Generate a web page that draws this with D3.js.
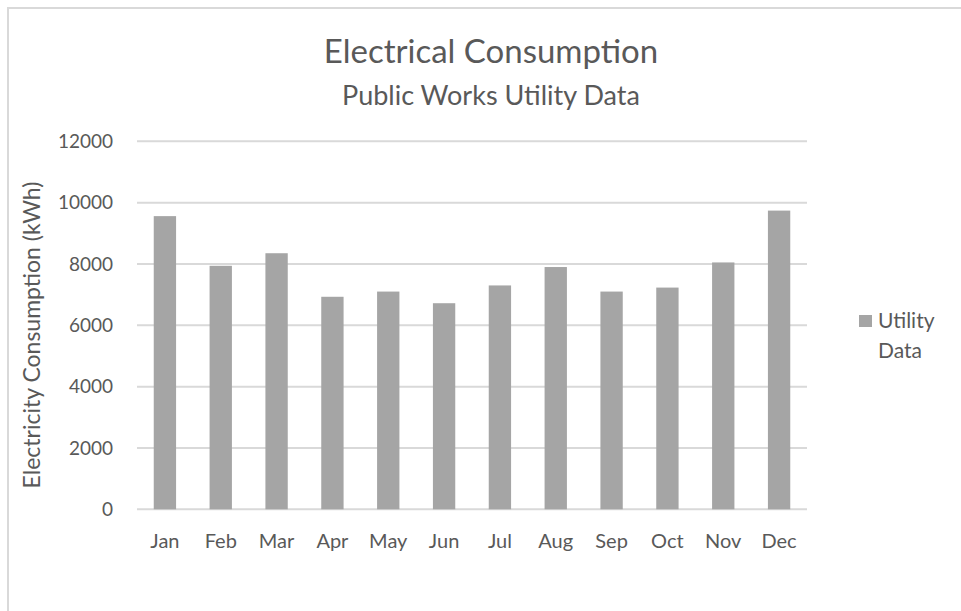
<!DOCTYPE html>
<meta charset="utf-8">
<style>
  body { margin: 0; background: #fff; }
  text { font-family: Lato, "Open Sans", sans-serif; fill: #595959; }
  .grid line { stroke: #d9d9d9; stroke-width: 2px; }
</style>
<body>
<script src="https://d3js.org/d3.v7.min.js"></script>
<script>

var months = ["Jan", "Feb", "Mar", "Apr", "May", "Jun", "Jul", "Aug", "Sep", "Oct", "Nov", "Dec"];
var usage = [9560, 7940, 8350, 6930, 7100, 6720, 7300, 7900, 7100, 7230, 8050, 9740];
var yTicks = [0, 2000, 4000, 6000, 8000, 10000, 12000];
var seriesName = ["Utility", "Data"];

var W = 961, H = 611;
var plot = {left: 137, right: 807, top: 141.3, bottom: 509.3};

var svg = d3.select("body").append("svg")
    .attr("width", W)
    .attr("height", H);

// chart frame (runs off the right and bottom edges like the screenshot)
svg.append("rect")
    .attr("x", 8).attr("y", 8)
    .attr("width", W + 10).attr("height", H + 10)
    .attr("fill", "#fff")
    .attr("stroke", "#d9d9d9")
    .attr("stroke-width", 2);

var x = d3.scaleBand()
    .domain(months)
    .range([plot.left, plot.right])
    .paddingInner(0.6)
    .paddingOuter(0.3);

var y = d3.scaleLinear()
    .domain([0, 12000])
    .range([plot.bottom, plot.top]);

// gridlines
svg.append("g")
    .attr("class", "grid")
    .selectAll("line")
    .data(yTicks)
  .enter().append("line")
    .attr("x1", plot.left)
    .attr("x2", plot.right)
    .attr("y1", function(d) { return y(d); })
    .attr("y2", function(d) { return y(d); });

// y tick labels
svg.append("g")
    .selectAll("text")
    .data(yTicks)
  .enter().append("text")
    .attr("x", 113)
    .attr("y", function(d) { return y(d); })
    .attr("dy", "0.35em")
    .attr("text-anchor", "end")
    .style("font-size", "19px")
    .text(function(d) { return d; });

// bars
svg.append("g")
    .selectAll("rect")
    .data(usage)
  .enter().append("rect")
    .attr("x", function(d, i) { return x(months[i]); })
    .attr("y", function(d) { return y(d); })
    .attr("width", x.bandwidth())
    .attr("height", function(d) { return y(0) - y(d); })
    .attr("fill", "#a5a5a5");

// x labels
svg.append("g")
    .selectAll("text")
    .data(months)
  .enter().append("text")
    .attr("x", function(d) { return x(d) + x.bandwidth() / 2; })
    .attr("y", 548)
    .attr("text-anchor", "middle")
    .style("font-size", "20px")
    .text(function(d) { return d; });

// titles
svg.append("text")
    .attr("x", 491).attr("y", 63)
    .attr("text-anchor", "middle")
    .style("font-size", "33px")
    .text("Electrical Consumption");

svg.append("text")
    .attr("x", 491).attr("y", 105)
    .attr("text-anchor", "middle")
    .style("font-size", "27px")
    .text("Public Works Utility Data");

// y axis title
svg.append("text")
    .attr("transform", "translate(40,335) rotate(-90)")
    .attr("text-anchor", "middle")
    .style("font-size", "23px")
    .text("Electricity Consumption (kWh)");

// legend
var legend = svg.append("g");
legend.append("rect")
    .attr("x", 859).attr("y", 315)
    .attr("width", 13).attr("height", 12)
    .attr("fill", "#a5a5a5");
legend.selectAll("text")
    .data(seriesName)
  .enter().append("text")
    .attr("x", 878)
    .attr("y", function(d, i) { return 328 + i * 30; })
    .style("font-size", "21px")
    .text(function(d) { return d; });

</script>
